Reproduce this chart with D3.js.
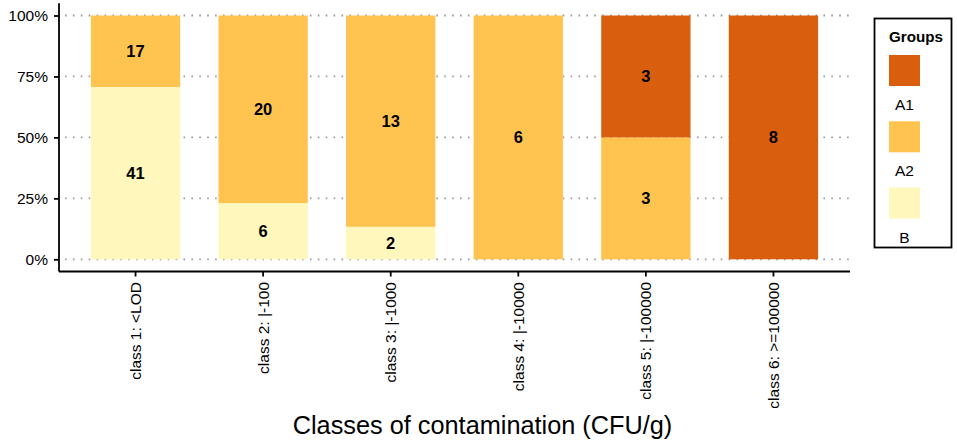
<!DOCTYPE html>
<html>
<head>
<meta charset="utf-8">
<script src="https://cdn.jsdelivr.net/npm/d3@7"></script>
<style>
  body { margin: 0; background: #fff; }
  text { font-family: "Liberation Sans", Arial, sans-serif; }
</style>
</head>
<body>
<script>
    const categories = ["class 1: <LOD", "class 2: |-100", "class 3: |-1000",
        "class 4: |-10000", "class 5: |-100000", "class 6: >=100000"];
    const groups = ["A1", "A2", "B"];
    const countsA1 = [0, 0, 0, 0, 3, 8];
    const countsA2 = [17, 20, 13, 6, 3, 0];
    const countsB = [41, 6, 2, 0, 0, 0];
    const yTicks = [0, 0.25, 0.5, 0.75, 1];
    const colors = { A1: "#d95f0e", A2: "#fec44f", B: "#fff7bc" };

    const width = 957;
    const height = 443;

    // table the stack layout needs
    const rows = categories.map((c, i) => ({
        cat: c, A1: countsA1[i], A2: countsA2[i], B: countsB[i]
    }));

    const svg = d3.select("body")
        .append("svg")
        .attr("width", width)
        .attr("height", height);

    const panel = { left: 59, right: 850, top: 3.3, bottom: 271.5 };

    const x = d3.scaleBand()
        .domain(categories)
        .range([panel.left, panel.right])
        .paddingInner(0.3)
        .paddingOuter(0.25);

    const y = d3.scaleLinear()
        .domain([-0.05, 1.05])
        .range([panel.bottom, panel.top]);

    // dotted grid
    svg.append("g")
        .selectAll("line")
        .data(yTicks)
        .join("line")
        .attr("x1", panel.left + 6)
        .attr("x2", panel.right)
        .attr("y1", d => y(d))
        .attr("y2", d => y(d))
        .attr("stroke", "#999")
        .attr("stroke-width", 1.8)
        .attr("stroke-dasharray", "1.6,6.3");

    const stack = d3.stack()
        .keys(["B", "A2", "A1"])
        .offset(d3.stackOffsetExpand);
    const series = stack(rows);

    const bars = svg.append("g");
    series.forEach(s => {
        bars.append("g")
            .attr("fill", colors[s.key])
            .selectAll("rect")
            .data(s.filter(d => d[1] - d[0] > 0))
            .join("rect")
            .attr("x", d => x(d.data.cat))
            .attr("width", x.bandwidth())
            .attr("y", d => y(d[1]))
            .attr("height", d => y(d[0]) - y(d[1]));
    });

    // counts in the middle of each segment
    series.forEach(s => {
        bars.append("g")
            .selectAll("text")
            .data(s.filter(d => d[1] - d[0] > 0))
            .join("text")
            .attr("x", d => x(d.data.cat) + x.bandwidth() / 2)
            .attr("y", d => y((d[0] + d[1]) / 2))
            .attr("dy", "0.36em")
            .attr("text-anchor", "middle")
            .attr("font-weight", "bold")
            .attr("font-size", 16.5)
            .attr("fill", "#000")
            .text(d => d.data[s.key]);
    });

    // y axis
    const yAxis = svg.append("g")
        .attr("transform", `translate(${panel.left},0)`)
        .call(d3.axisLeft(y).tickValues(yTicks).tickFormat(d3.format(".0%")).tickSize(5).tickPadding(6));
    yAxis.select(".domain").attr("d", `M0,${panel.top}V${panel.bottom}`);

    // x axis
    const xAxis = svg.append("g")
        .attr("transform", `translate(0,${panel.bottom})`)
        .call(d3.axisBottom(x).tickSize(5).tickSizeOuter(0));
    xAxis.select(".domain").attr("d", `M${panel.left},0H${panel.right}`);
    xAxis.selectAll(".tick text")
        .attr("transform", "rotate(-90)")
        .attr("text-anchor", "end")
        .attr("x", -10.5)
        .attr("y", 0)
        .attr("dy", "0.35em");

    [yAxis, xAxis].forEach(a => {
        a.select(".domain").attr("stroke", "#000").attr("stroke-width", 1.8);
        a.selectAll(".tick line").attr("stroke", "#000").attr("stroke-width", 1.8);
        a.selectAll(".tick text")
            .attr("fill", "#000")
            .attr("font-size", 15.5)
            .attr("font-family", "Liberation Sans, Arial, sans-serif");
    });

    svg.append("text")
        .attr("x", (panel.left + panel.right) / 2 + 28)
        .attr("y", 434)
        .attr("text-anchor", "middle")
        .attr("font-size", 25.3)
        .text("Classes of contamination (CFU/g)");

    // legend
    const legend = svg.append("g").attr("transform", "translate(874.5,18.5)");
    legend.append("rect")
        .attr("width", 77)
        .attr("height", 229)
        .attr("fill", "none")
        .attr("stroke", "#000")
        .attr("stroke-width", 1.8);
    legend.append("text")
        .attr("x", 14.5)
        .attr("y", 23)
        .attr("font-weight", "bold")
        .attr("font-size", 15.2)
        .text("Groups");
    const key = legend.selectAll("g.key")
        .data(groups)
        .join("g")
        .attr("class", "key")
        .attr("transform", (d, i) => `translate(14.5,${36.5 + i * 66.3})`);
    key.append("rect")
        .attr("width", 31)
        .attr("height", 31)
        .attr("fill", d => colors[d]);
    key.append("text")
        .attr("x", 15.5)
        .attr("y", 55)
        .attr("text-anchor", "middle")
        .attr("font-size", 15.5)
        .text(d => d);
</script>
</body>
</html>
